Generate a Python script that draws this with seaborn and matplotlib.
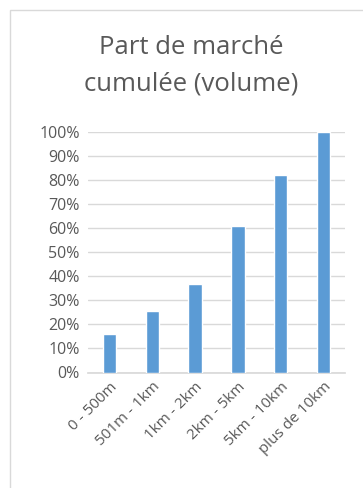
import numpy as np
import pandas as pd
import seaborn as sns
import matplotlib.pyplot as plt
from matplotlib.patches import Rectangle
from matplotlib.ticker import PercentFormatter

# categories and cumulative share
categories = ["0 - 500m", "501m - 1km", "1km - 2km", "2km - 5km", "5km - 10km", "plus de 10km"]
share = [16, 25.5, 37, 61, 82, 100]
yticks = list(range(0, 101, 10))

df = pd.DataFrame({"distance": categories, "part": share})

sns.set_theme(style="white")
plt.rcParams['font.family'] = ['Open Sans', 'DejaVu Sans']

fig = plt.figure(figsize=(3.63, 4.88), dpi=100)
W, H = 363, 488
ax = fig.add_axes([88 / W, 1 - 372.5 / H, 257 / W, 240.5 / H])

sns.barplot(data=df, x="distance", y="part", color="#5B9BD5", width=0.31,
            saturation=1, ax=ax, zorder=3)

ax.set_ylim(0, 100)
ax.set_yticks(yticks)
ax.yaxis.set_major_formatter(PercentFormatter(decimals=0))
ax.grid(axis="y", color="#D9D9D9", linewidth=1, zorder=0)
ax.set_xlabel("")
ax.set_ylabel("")
for s in ["top", "right", "left"]:
    ax.spines[s].set_visible(False)
ax.spines["bottom"].set_color("#D9D9D9")
ax.tick_params(axis="y", length=0, colors="#595959", labelsize=11.5, pad=6)
ax.tick_params(axis="x", length=0, colors="#595959", labelsize=11, pad=5)
plt.setp(ax.get_xticklabels(), rotation=45, ha="right", rotation_mode="anchor")

fig.text(191 / W, 1 - 66 / H, "Part de marché\ncumulée (volume)", ha="center", va="center",
         fontsize=18.5, color="#595959", linespacing=1.6)

# chart border
fig.patches.append(Rectangle((10 / W, -0.05), 1.0, 1 - 10 / H + 0.05, transform=fig.transFigure,
                             fill=False, edgecolor="#D9D9D9", linewidth=1))

fig.savefig("out.png", dpi=100)
